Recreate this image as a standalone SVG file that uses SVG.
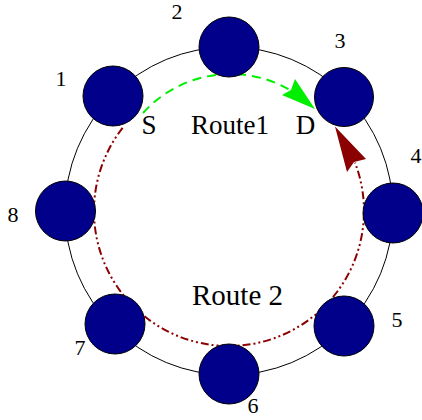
<svg xmlns="http://www.w3.org/2000/svg" width="422" height="420" viewBox="0 0 422 420">
<style>
.ring{fill:none;stroke:#000;stroke-width:1}
.node{fill:#00008b;stroke:#000;stroke-width:1}
.num{font-family:"Liberation Serif",serif;font-size:22px;fill:#000;text-anchor:middle}
.lbl{font-family:"Liberation Serif",serif;font-size:27px;fill:#000;text-anchor:middle}
.r1{fill:none;stroke:#00ee00;stroke-width:2;stroke-dasharray:9 6}
.r2{fill:none;stroke:#8b0000;stroke-width:2;stroke-dasharray:8 3 2 3 2 3}
</style>
<rect width="422" height="420" fill="#fff"/>
<circle class="ring" cx="229" cy="211" r="164"/>
<g id="connectors">
<path id="route1" class="r1" d="M143,113 A118,118 0 0 1 290,90"/>
<path d="M315,109 L295,79 L291,90 L282,95 Z" fill="#00ee00"/>
<path id="route2" class="r2" d="M122.6,127.9 A135,135 0 1 0 355,162.6"/>
<path d="M335,126.5 L366,159 L354,162 L347,172 Z" fill="#8b0000"/>
</g>
<g id="node1"><circle class="node" cx="113" cy="96" r="30"/><text class="num" x="61" y="86">1</text></g>
<g id="node2"><circle class="node" cx="229" cy="47" r="30"/><text class="num" x="177" y="19">2</text></g>
<g id="node3"><circle class="node" cx="344" cy="97" r="29.5"/><text class="num" x="340" y="48">3</text></g>
<g id="node4"><circle class="node" cx="393" cy="213" r="30"/><text class="num" x="416" y="163">4</text></g>
<g id="node5"><circle class="node" cx="344" cy="326" r="30"/><text class="num" x="397" y="327">5</text></g>
<g id="node6"><circle class="node" cx="229" cy="374" r="30"/><text class="num" x="253" y="413">6</text></g>
<g id="node7"><circle class="node" cx="115" cy="324" r="30"/><text class="num" x="80" y="355">7</text></g>
<g id="node8"><circle class="node" cx="65.5" cy="211" r="30"/><text class="num" x="13" y="222">8</text></g>
<text class="lbl" x="149" y="134">S</text>
<text class="lbl" x="230" y="134">Route1</text>
<text class="lbl" x="305.5" y="134">D</text>
<text class="lbl" x="237.5" y="305" style="font-size:29px">Route 2</text>
</svg>
